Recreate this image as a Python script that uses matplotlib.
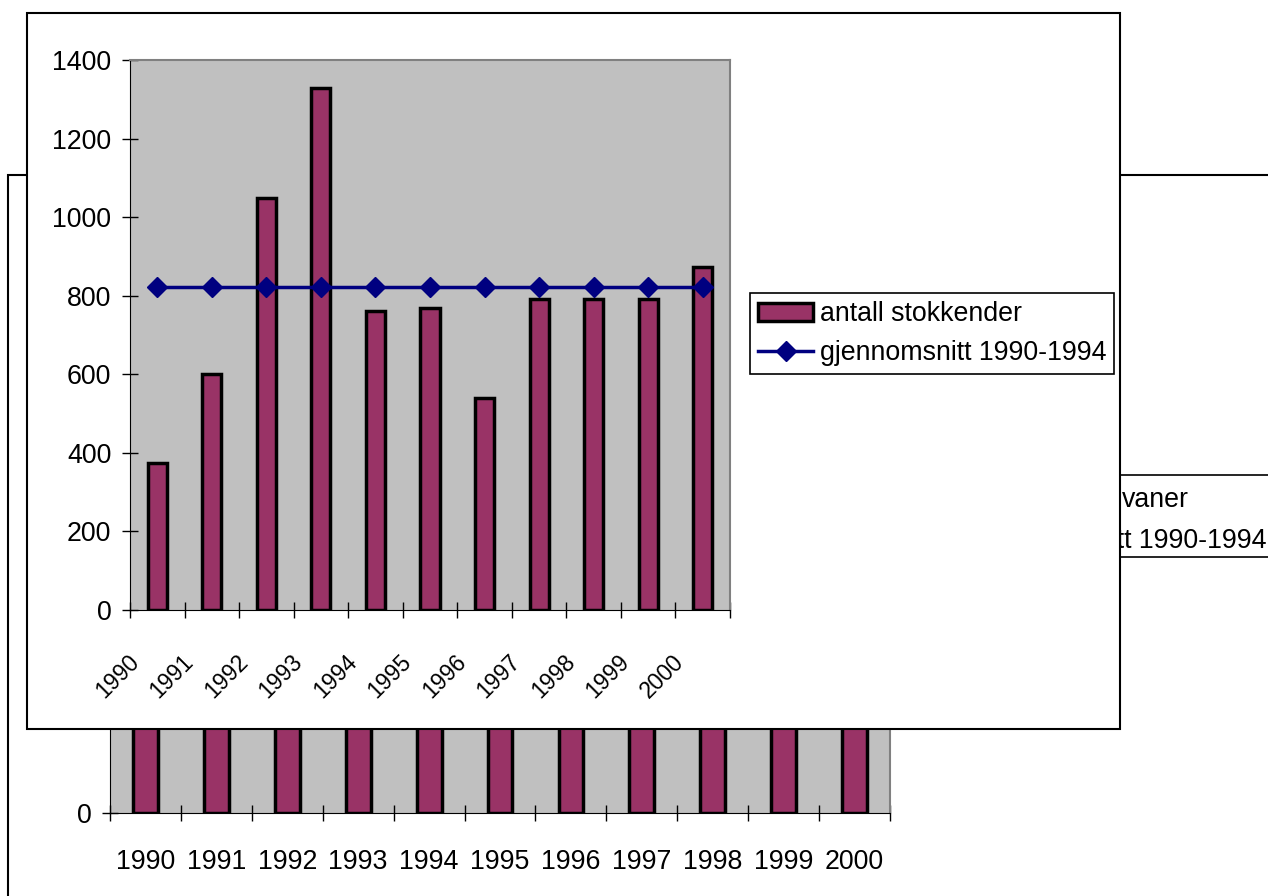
import matplotlib
matplotlib.use('Agg')
import matplotlib.pyplot as plt
from matplotlib.patches import Rectangle
from matplotlib.transforms import ScaledTranslation
import numpy as np

plt.rcParams['font.family'] = ['Liberation Sans', 'DejaVu Sans']

# data
years = ['1990', '1991', '1992', '1993', '1994', '1995',
         '1996', '1997', '1998', '1999', '2000']
stokkender = [375, 600, 1050, 1330, 760, 768, 540, 792, 792, 792, 873]
snitt = [821, 821, 821, 821, 821, 821, 821, 821, 821, 821, 821]
y_ticks = [0, 200, 400, 600, 800, 1000, 1200, 1400]

bar_color = '#993366'
line_color = '#000080'
plot_bg = '#c0c0c0'
fs = 19.3

W, H = 1268, 896
fig = plt.figure(figsize=(W / 100, H / 100), dpi=100)


def fx(px):
    return px / W


def fy(py):
    return 1 - py / H


x = np.arange(len(years))

# ---- chart in the back (mostly hidden) ----
fig.add_artist(Rectangle((fx(8), -0.2), 1.2, fy(175) + 0.2, transform=fig.transFigure,
                         fc='white', ec='black', lw=1.5, zorder=0))

ax2 = fig.add_axes([fx(110), fy(813), 780 / W, (813 - 230) / H])
ax2.set_zorder(1)
ax2.set_facecolor(plot_bg)
ax2.bar(x, stokkender, width=0.35, color=bar_color, edgecolor='black', linewidth=2.5)
ax2.plot(x, snitt, color=line_color, lw=2.5, marker='D', ms=10)
ax2.set_xlim(-0.5, len(years) - 0.5)
ax2.set_ylim(0, 1400)
ax2.set_yticks([0])
ax2.set_xticks(np.arange(-0.5, len(years), 1))
ax2.set_xticklabels([])
ax2.set_xticks(x, minor=True)
ax2.set_xticklabels(years, minor=True, fontsize=fs)
ax2.tick_params(axis='x', which='major', direction='inout', length=11, width=1)
ax2.tick_params(axis='x', which='minor', length=0, pad=26)
ax2.tick_params(axis='y', direction='inout', length=11, width=1, labelsize=fs, pad=8)
for s in ['top', 'right']:
    ax2.spines[s].set_color('#808080')
    ax2.spines[s].set_linewidth(1.5)

# legend box of the back chart (only its right part shows)
fig.add_artist(Rectangle((fx(900), fy(557)), 0.5, (557 - 475) / H, transform=fig.transFigure,
                         fc='white', ec='black', lw=1.2, zorder=1.5))
fig.text(fx(1122), fy(500), 'vaner', fontsize=fs, ha='left', va='center', zorder=1.6)
fig.text(fx(1266), fy(541), 'gjennomsnitt 1990-1994', fontsize=fs, ha='right', va='center', zorder=1.6)

# ---- chart in front ----
fig.add_artist(Rectangle((fx(27), fy(729)), (1120 - 27) / W, (729 - 13) / H,
                         transform=fig.transFigure, fc='white', ec='black', lw=1.5, zorder=2))

ax = fig.add_axes([fx(130), fy(610), 600 / W, 550 / H])
ax.set_zorder(3)
ax.set_facecolor(plot_bg)
bars = ax.bar(x, stokkender, width=0.35, color=bar_color, edgecolor='black', linewidth=2.5,
              label='antall stokkender')
line, = ax.plot(x, snitt, color=line_color, lw=2.5, marker='D', ms=10,
                label='gjennomsnitt 1990-1994')
ax.set_xlim(-0.5, len(years) - 0.5)
ax.set_ylim(0, 1400)
ax.set_yticks(y_ticks)
ax.set_xticks(np.arange(-0.5, len(years), 1))
ax.set_xticklabels([])
ax.tick_params(axis='x', direction='inout', length=11, width=1)
ax.tick_params(axis='y', direction='inout', length=11, width=1, labelsize=fs, pad=8)
for s in ['top', 'right']:
    ax.spines[s].set_color('#808080')
    ax.spines[s].set_linewidth(1.5)

# rotated category labels, sitting left of each category like in the original
offset = ScaledTranslation(-0.40, -0.66, fig.dpi_scale_trans)
for i, lab in enumerate(years):
    ax.text(i, 0, lab, transform=ax.transData + offset, rotation=45,
            rotation_mode='anchor', ha='center', va='center', fontsize=16.5, clip_on=False)

leg = fig.legend([bars, line], ['antall stokkender', 'gjennomsnitt 1990-1994'],
                 loc='upper left', bbox_to_anchor=(fx(750), fy(293)),
                 fontsize=fs, frameon=True, fancybox=False, edgecolor='black', framealpha=1,
                 handlelength=2.05, handleheight=0.65, handletextpad=0.25, borderpad=0.3,
                 labelspacing=0.48, borderaxespad=0)
leg.get_frame().set_linewidth(1.2)
leg.set_zorder(4)

fig.savefig('out.png', dpi=100)
